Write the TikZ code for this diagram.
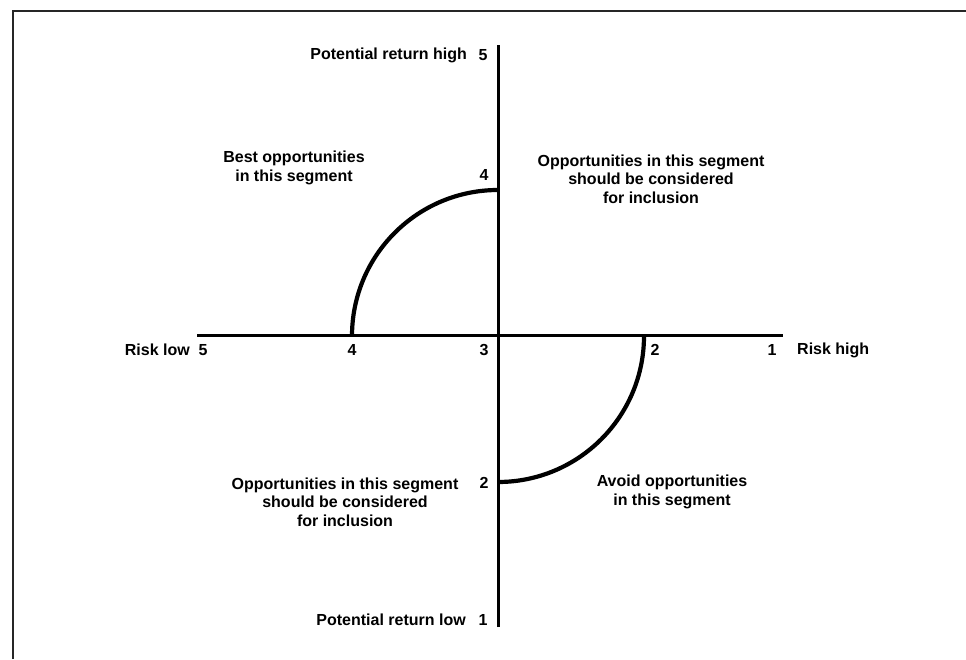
\documentclass[tikz,border=0pt]{standalone}
\usepackage{fontspec}
\setmainfont{Liberation Sans}
\begin{document}
\begin{tikzpicture}[x=1pt,y=1pt,
  lbl/.style={inner sep=0pt,font=\fontsize{16}{18.5}\selectfont\bfseries},
  seg/.style={lbl,align=center},
  axisline/.style={line width=3pt},
  curve/.style={line width=4.2pt},
  frame/.style={line width=2pt,draw=black!85}]
\useasboundingbox (0,0) rectangle (966,659);
% frame
\coordinate (fb) at (13,0);
\coordinate (fc) at (13,648);
\coordinate (fr) at (966,648);
\draw[frame] (fb) -- (fc) -- (fr);
% axes
\coordinate (O) at (498,323);
\coordinate (xl) at (197,323);
\coordinate (xr) at (783,323);
\coordinate (yt) at (498,614);
\coordinate (yb) at (498,32);
\draw[axisline] (xl) -- (xr);
\draw[axisline] (yb) -- (yt);
% arcs
\coordinate (a1) at (352,323);
\coordinate (a2) at (644,323);
\draw[curve] (a1) arc[start angle=180,end angle=90,radius=146];
\draw[curve] (a2) arc[start angle=0,end angle=-90,radius=146];
% horizontal labels
\node[lbl] (h5) at (203,309) {5};
\node[lbl] (h4) at (352,309) {4};
\node[lbl] (h3) at (484,309) {3};
\node[lbl] (h2) at (655,309) {2};
\node[lbl] (h1) at (772,309) {1};
\node[lbl,anchor=east] (rl) at (190,309) {Risk low};
\node[lbl,anchor=west] (rh) at (797,309) {Risk high};
% vertical labels
\node[lbl] (v5) at (483,604) {5};
\node[lbl,anchor=east] (ph) at (467,604) {Potential return high};
\node[lbl] (v4) at (484,484) {4};
\node[lbl] (v2) at (484,176) {2};
\node[lbl] (v1) at (483,39) {1};
\node[lbl,anchor=east] (pl) at (466,39) {Potential return low};
% segment texts
\node[seg] (ul) at (294,491) {Best opportunities\\in this segment};
\node[seg] (ur) at (651,480) {Opportunities in this segment\\should be considered\\for inclusion};
\node[seg] (ll) at (345,157) {Opportunities in this segment\\should be considered\\for inclusion};
\node[seg] (lr) at (672,167) {Avoid opportunities\\in this segment};
\end{tikzpicture}
\end{document}
